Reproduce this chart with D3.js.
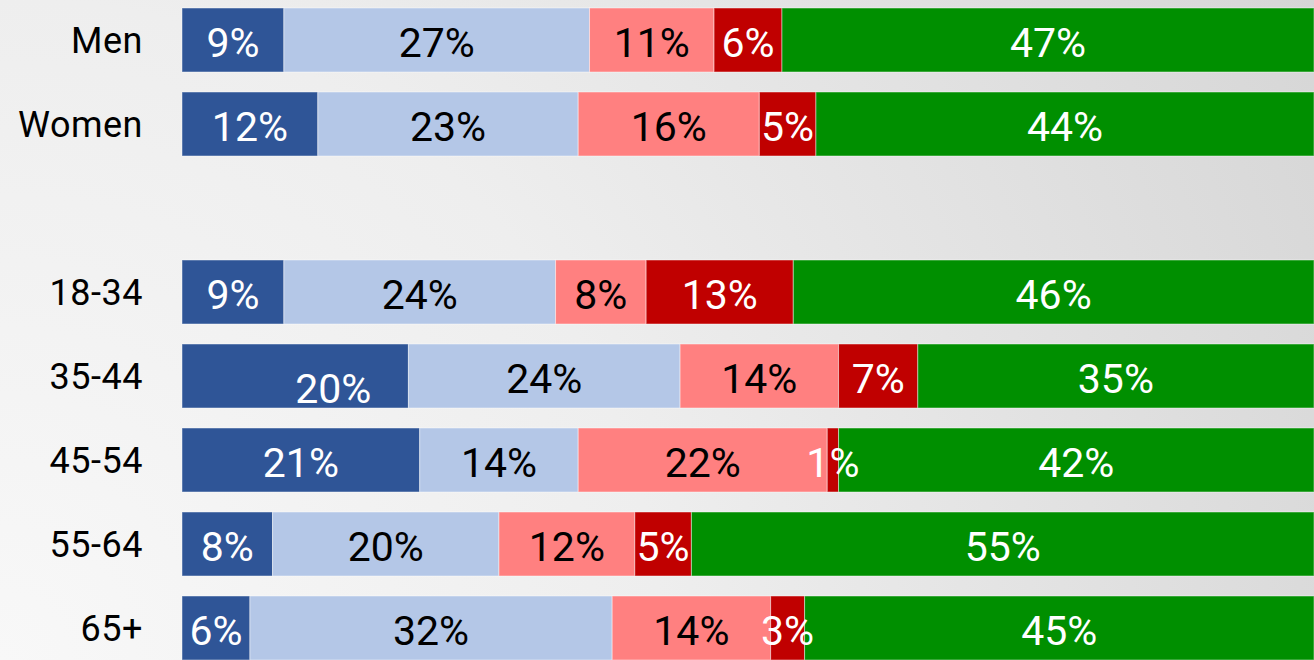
<!DOCTYPE html>
<html>
<head>
<meta charset="utf-8">
<script src="https://cdn.jsdelivr.net/npm/d3@7"></script>
<style>
  html, body { margin: 0; padding: 0; overflow: hidden; }
  svg { display: block; }
</style>
</head>
<body>
<svg id="chart" width="1314" height="660"></svg>
<script>
// Row labels (a blank spacer row separates gender from age groups)
const categories = ["Men", "Women", "18-34", "35-44", "45-54", "55-64", "65+"];
const spacerAfter = "Women";

// Five response segments, percent of each row
const seg1 = [9, 12, 9, 20, 21, 8, 6];
const seg2 = [27, 23, 24, 24, 14, 20, 32];
const seg3 = [11, 16, 8, 14, 22, 12, 14];
const seg4 = [6, 5, 13, 7, 1, 5, 3];
const seg5 = [47, 44, 46, 35, 42, 55, 45];

const segKeys = ["seg1", "seg2", "seg3", "seg4", "seg5"];
const segColors = ["#2F5597", "#B4C7E7", "#FF8080", "#C00000", "#008F00"];
const labelColors = ["#ffffff", "#000000", "#000000", "#ffffff", "#ffffff"];

const W = 1314, H = 660;
const svg = d3.select("#chart");

// Soft radial background, lightest at lower left
const defs = svg.append("defs");
const grad = defs.append("radialGradient")
  .attr("id", "bg").attr("gradientUnits", "userSpaceOnUse")
  .attr("cx", 0).attr("cy", H).attr("r", 1470);
grad.append("stop").attr("offset", 0).attr("stop-color", "#f8f8f8");
grad.append("stop").attr("offset", 0.45).attr("stop-color", "#eeeeee");
grad.append("stop").attr("offset", 1).attr("stop-color", "#d6d6d6");
svg.append("rect").attr("width", W).attr("height", H).attr("fill", "url(#bg)");

// Table of rows
const rows = categories.map((c, i) => ({
  cat: c, seg1: seg1[i], seg2: seg2[i], seg3: seg3[i], seg4: seg4[i], seg5: seg5[i]
}));

// Band domain with an empty spacer slot
const bandDomain = [];
categories.forEach(c => {
  bandDomain.push(c);
  if (c === spacerAfter) bandDomain.push("__gap");
});

const y = d3.scaleBand()
  .domain(bandDomain)
  .range([-2, 670])
  .paddingInner(20 / 84)
  .paddingOuter(10 / 84);

const x = d3.scaleLinear().domain([0, 100]).range([182, 1314]);

const stack = d3.stack().keys(segKeys);
const series = stack(rows);

// One label sits off-centre in its segment
const labelNudge = { "35-44|seg1": { dx: 38, dy: 10 } };
const nudge = (d, key) => labelNudge[d.data.cat + "|" + key] || { dx: 0, dy: 0 };

const g = svg.append("g");
series.forEach((s, si) => {
  g.append("g").selectAll("rect")
    .data(s)
    .join("rect")
    .attr("x", d => x(d[0]))
    .attr("y", d => y(d.data.cat))
    .attr("width", d => x(d[1]) - x(d[0]))
    .attr("height", y.bandwidth())
    .attr("fill", segColors[si])
    .attr("stroke", "rgba(255,255,255,0.45)")
    .attr("stroke-width", 1);
});

// Value labels
series.forEach((s, si) => {
  g.append("g").selectAll("text")
    .data(s)
    .join("text")
    .attr("x", d => (x(d[0]) + x(d[1])) / 2 + nudge(d, s.key).dx)
    .attr("y", d => y(d.data.cat) + y.bandwidth() / 2 + 17 + nudge(d, s.key).dy)
    .attr("text-anchor", "middle")
    .attr("font-family", "Roboto, sans-serif")
    .attr("font-size", 41)
    .attr("fill", labelColors[si])
    .text(d => (d[1] - d[0]) + "%");
});

// Row labels
svg.append("g").selectAll("text")
  .data(categories)
  .join("text")
  .attr("x", 143)
  .attr("y", c => y(c) + y.bandwidth() / 2 + 13)
  .attr("text-anchor", "end")
  .attr("font-family", "Roboto, sans-serif")
  .attr("font-size", 36)
  .attr("letter-spacing", 0.5)
  .attr("fill", "#000")
  .text(c => c);
</script>
</body>
</html>
